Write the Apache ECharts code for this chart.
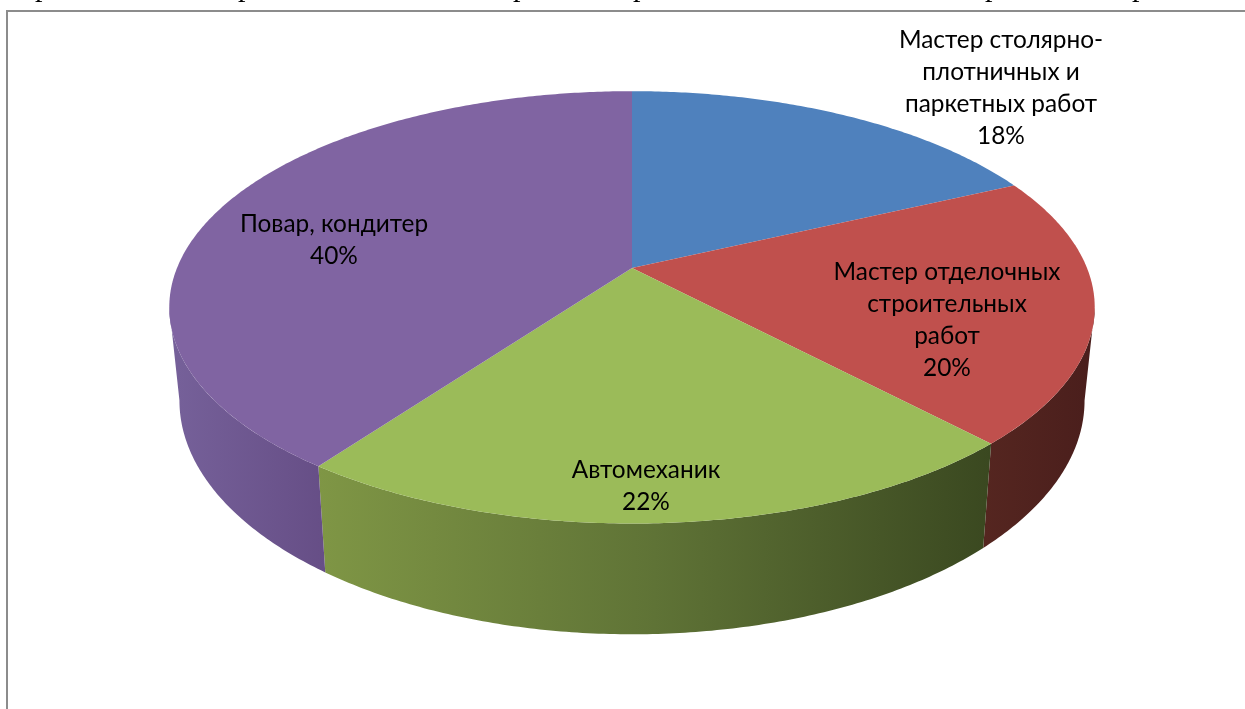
<!DOCTYPE html>
<html>
<head>
<meta charset="utf-8">
<script src="https://cdn.jsdelivr.net/npm/echarts@6/dist/echarts.min.js"></script>
<style>
html, body, #main { margin: 0; padding: 0; width: 1245px; height: 709px; overflow: hidden; background: #fff; }
</style>
</head>
<body>
<div id="main"></div>
<script>
const categories = ["Мастер столярно-\nплотничных и\nпаркетных работ", "Мастер отделочных\nстроительных\nработ", "Автомеханик", "Повар, кондитер"];
const shares = [18, 20, 22, 40];

const topColors = ["#4f81bd", "#c0504d", "#9bbb59", "#8064a2"];
// боковая стенка: цвета градиента слева направо
const sideColors = [["#2c4a6e", "#2c4a6e"], ["#552620", "#4a1e1c"], ["#7f9645", "#5f7336", "#3a4820"], ["#76619a", "#664e86"]];
const labelSpots = [[1001, 88], [947, 320], [646, 486], [334, 240]];
// хвосты букв обрезанной строки над рамкой
const clippedLetterX = [40, 243, 518, 638, 990, 1137];

// перспектива диска: верхняя и нижняя окружности цилиндра
const topDisc = { cx: 632, cy: 268, a: 455, b: 209, k: 0.182 };
const botDisc = { cx: 632, cy: 358, a: 445, b: 226, k: 0.182 };
// видимая часть стенки, от правого до левого края диска
const wallFrom = Math.acos(-topDisc.k);
const wallTo = Math.PI * 2 - wallFrom;

function project(d, t) {
  const u = Math.sin(t), v = Math.cos(t), w = 1 + d.k * v;
  return [d.cx + d.a * u / w, d.cy - d.b * v / w];
}
function arc(d, t0, t1) {
  const n = Math.max(2, Math.ceil((t1 - t0) / 0.01));
  const pts = [];
  for (let i = 0; i <= n; i++) pts.push(project(d, t0 + (t1 - t0) * i / n));
  return pts;
}

const total = shares.reduce((a, b) => a + b, 0);
let acc = 0;
const sectors = shares.map((s) => {
  const t0 = acc / total * Math.PI * 2;
  acc += s;
  return { t0: t0, t1: acc / total * Math.PI * 2 };
});

const myChart = echarts.init(document.getElementById("main"));
const seriesData = categories.map((name, i) => ({ name: name, value: shares[i] }));

let option = {
  animation: false,
  graphic: [
    { type: "rect", shape: { x: 7, y: 11, width: 1300, height: 760 }, style: { fill: "none", stroke: "#8c8c8c", lineWidth: 2 } },
  ].concat(clippedLetterX.map((x) => ({
    type: "text",
    x: x - 5,
    y: -12,
    style: { text: "р", font: '30px "Liberation Serif"', fill: "#000", verticalAlign: "middle" },
  }))),
  series: [
    {
      // стенки
      type: "custom",
      coordinateSystem: "none",
      z: 2,
      data: seriesData,
      renderItem: (params) => {
        const s = sectors[params.dataIndex];
        const t0 = Math.max(s.t0, wallFrom), t1 = Math.min(s.t1, wallTo);
        if (t1 <= t0) return { type: "group", children: [] };
        const pts = arc(topDisc, t0, t1).concat(arc(botDisc, t0, t1).reverse());
        const xs = pts.map((p) => p[0]);
        const x0 = Math.min(...xs), x1 = Math.max(...xs);
        const cols = sideColors[params.dataIndex];
        return {
          type: "polygon",
          shape: { points: pts },
          style: {
            fill: new echarts.graphic.LinearGradient(x0, 0, x1, 0, cols.map((c, j) => ({ offset: j / (cols.length - 1), color: c })), true),
          },
        };
      },
    },
    {
      // верхняя грань
      type: "custom",
      coordinateSystem: "none",
      z: 3,
      data: seriesData,
      renderItem: (params) => {
        const s = sectors[params.dataIndex];
        const pts = [[topDisc.cx, topDisc.cy]].concat(arc(topDisc, s.t0, s.t1));
        return {
          type: "polygon",
          shape: { points: pts },
          style: { fill: topColors[params.dataIndex] },
        };
      },
    },
    {
      // подписи
      type: "custom",
      coordinateSystem: "none",
      z: 4,
      data: seriesData,
      renderItem: (params) => {
        const i = params.dataIndex;
        return {
          type: "text",
          x: labelSpots[i][0],
          y: labelSpots[i][1],
          style: {
            text: categories[i] + "\n" + shares[i] + "%",
            fill: "#000",
            font: '24.4px Lato',
            lineHeight: 32,
            align: "center",
            verticalAlign: "middle",
          },
        };
      },
    },
  ],
};
myChart.setOption(option);
</script>
</body>
</html>
